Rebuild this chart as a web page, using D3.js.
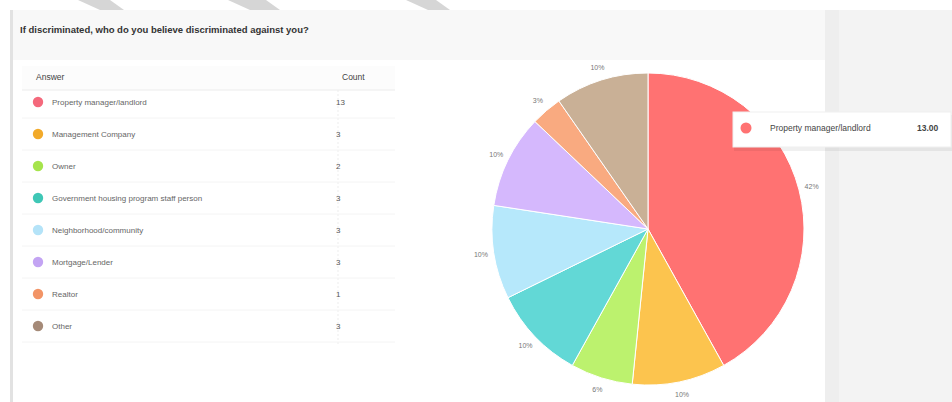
<!DOCTYPE html>
<html>
<head>
<meta charset="utf-8">
<script src="https://cdn.jsdelivr.net/npm/d3@7"></script>
<style>
  html, body { margin: 0; padding: 0; background: #ffffff; }
  svg { display: block; font-family: "Liberation Sans", Arial, sans-serif; }
</style>
</head>
<body>
<svg id="chart" width="952" height="402"></svg>
<script>
// Survey question and answer counts
const title = "If discriminated, who do you believe discriminated against you?";
const answers = [
  "Property manager/landlord",
  "Management Company",
  "Owner",
  "Government housing program staff person",
  "Neighborhood/community",
  "Mortgage/Lender",
  "Realtor",
  "Other"
];
const counts = [13, 3, 2, 3, 3, 3, 1, 3];
const sliceColors = ["#ff7272", "#fcc44e", "#bcf26e", "#62d8d6", "#b6e8fb", "#d5b8fd", "#f9aa80", "#c9b096"];
const dotColors = ["#f4697c", "#f2aa2a", "#a6e44c", "#3fc7b6", "#b4e3f8", "#c3a4f3", "#f29466", "#a58a78"];
const tableHeaders = ["Answer", "Count"];
const hovered = 0; // slice whose tooltip is shown

const svg = d3.select("#chart");
const W = 952, H = 402;

// page background and panels
svg.append("rect").attr("width", W).attr("height", H).attr("fill", "#ffffff");
svg.append("rect").attr("x", 825).attr("y", 10).attr("width", 14).attr("height", H - 10).attr("fill", "#eeeeee");
svg.append("rect").attr("x", 839).attr("y", 10).attr("width", W - 839).attr("height", H - 10).attr("fill", "#f3f3f3");

// faint diagonal strokes along the top edge
const stripes = [[78, 110], [228, 266], [406, 436]];
svg.selectAll("path.stripe").data(stripes).join("path")
  .attr("class", "stripe")
  .attr("d", d => `M${d[0]},0 L${d[1]},0 L${d[1] + 14},10 L${d[0] + 22},10 Z`)
  .attr("fill", "#d6d6d6");

// card
svg.append("rect").attr("x", 11).attr("y", 10).attr("width", 814).attr("height", H - 10).attr("fill", "#ffffff");
svg.append("rect").attr("x", 11).attr("y", 10).attr("width", 814).attr("height", 50).attr("fill", "#f8f8f8");
svg.append("rect").attr("x", 10).attr("y", 10).attr("width", 3).attr("height", H - 10).attr("fill", "#e2e2e2");

svg.append("text")
  .attr("x", 20).attr("y", 33)
  .attr("font-size", 9.5).attr("font-weight", 600).attr("fill", "#333")
  .text(title);

// table
const tableX = 22, tableR = 395, countX = 338;
const rowY = d3.scaleLinear().domain([0, answers.length - 1]).range([102, 326]);

svg.append("rect").attr("x", tableX).attr("y", 66).attr("width", tableR - tableX).attr("height", 24).attr("fill", "#fcfcfc");
svg.append("line").attr("x1", tableX).attr("x2", tableR).attr("y1", 90).attr("y2", 90)
  .attr("stroke", "#ececec");
svg.append("line").attr("x1", countX).attr("x2", countX).attr("y1", 90).attr("y2", 346)
  .attr("stroke", "#ededed").attr("stroke-dasharray", "2,2");

svg.append("text").attr("x", 36).attr("y", 80).attr("font-size", 8.5).attr("fill", "#444").text(tableHeaders[0]);
svg.append("text").attr("x", 342).attr("y", 80).attr("font-size", 8.5).attr("fill", "#444").text(tableHeaders[1]);

const rows = svg.selectAll("g.row").data(answers).join("g")
  .attr("class", "row")
  .attr("transform", (d, i) => `translate(0,${rowY(i)})`);
rows.append("line").attr("x1", tableX).attr("x2", tableR).attr("y1", 16).attr("y2", 16)
  .attr("stroke", "#f4f4f4");
rows.append("circle").attr("cx", 38).attr("cy", 0).attr("r", 5.2)
  .attr("fill", (d, i) => dotColors[i]);
rows.append("text").attr("x", 52).attr("y", 3).attr("font-size", 8).attr("fill", "#666").text(d => d);
rows.append("text").attr("x", 336).attr("y", 3).attr("font-size", 8).attr("fill", "#555")
  .text((d, i) => counts[i]);

// pie
const cx = 648, cy = 229, R = 156, labelR = 169;
const total = d3.sum(counts);
const pie = d3.pie().sort(null).value(d => d)(counts);
const arc = d3.arc().innerRadius(0).outerRadius(R);
const labelArc = d3.arc().innerRadius(labelR).outerRadius(labelR);

const g = svg.append("g").attr("transform", `translate(${cx},${cy})`);
g.selectAll("path.slice").data(pie).join("path")
  .attr("class", "slice")
  .attr("d", arc)
  .attr("fill", (d, i) => sliceColors[i])
  .attr("stroke", "#ffffff").attr("stroke-width", 1);

g.selectAll("text.pct").data(pie).join("text")
  .attr("class", "pct")
  .attr("transform", d => `translate(${labelArc.centroid(d)})`)
  .attr("text-anchor", "middle").attr("dy", "0.3em")
  .attr("font-size", 7).attr("fill", "#777")
  .text(d => Math.round(d.value / total * 100) + "%");

// tooltip for the hovered slice
const tip = svg.append("g").attr("transform", "translate(733,112)");
tip.append("rect").attr("x", 1).attr("y", 3).attr("width", 218).attr("height", 36)
  .attr("fill", "#000").attr("opacity", 0.06);
tip.append("rect").attr("width", 218).attr("height", 35).attr("fill", "#ffffff")
  .attr("stroke", "#efefef");
tip.append("circle").attr("cx", 13).attr("cy", 16).attr("r", 5.5).attr("fill", sliceColors[hovered]);
tip.append("text").attr("x", 37).attr("y", 19).attr("font-size", 8.5).attr("fill", "#444")
  .text(answers[hovered]);
tip.append("text").attr("x", 184).attr("y", 19).attr("font-size", 8.5).attr("fill", "#444")
  .attr("font-weight", 600)
  .text(counts[hovered].toFixed(2));
</script>
</body>
</html>
